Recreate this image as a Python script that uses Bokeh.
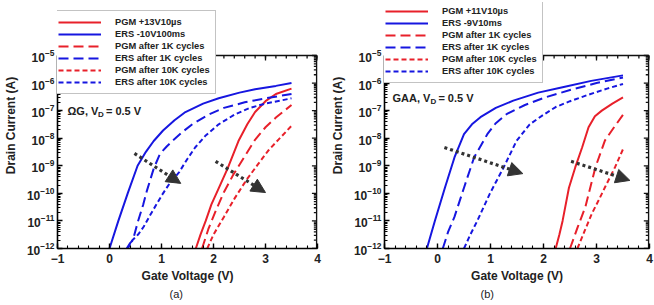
import numpy as np
from bokeh.plotting import figure
from bokeh.layouts import row
from bokeh.models import (Range1d, SingleIntervalTicker, Legend, LegendItem, Label, Title,
                          Arrow, NormalHead)
from bokeh.embed import file_html
from bokeh.resources import INLINE

# ---------------- data (Gate voltage V, drain current A) ----------------
# Panel (a): Omega-gate
a_ers_v   = [0.0, 0.17, 0.35, 0.54, 0.7, 0.85, 1.03, 1.25, 1.46, 1.8, 2.1, 2.5, 2.8, 3.2, 3.5]
a_ers_i   = [1e-12, 1e-11, 1e-10, 1e-9, 3.2e-9, 7.9e-9, 1.9e-8, 4.5e-8, 8.9e-8, 1.8e-7,
             2.8e-7, 4.5e-7, 6.0e-7, 7.9e-7, 1.0e-6]
a_ers1k_v = [0.33, 0.4, 0.45, 0.55, 0.65, 0.72, 0.85, 0.97, 1.1, 1.22, 1.4, 1.6, 1.9, 2.2, 2.6, 3.0, 3.5]
a_ers1k_i = [1e-12, 1.6e-12, 2e-12, 1e-11, 4e-11, 1.26e-10, 7.9e-10, 2.7e-9, 5e-9, 8.3e-9,
             1.66e-8, 3.3e-8, 7.1e-8, 1.26e-7, 2.0e-7, 2.8e-7, 4.0e-7]
a_ers10k_v = [0.35, 0.44, 0.55, 0.66, 0.78, 0.91, 1.03, 1.15, 1.34, 1.5, 1.65, 1.85, 2.1, 2.4, 2.7, 3.0, 3.5]
a_ers10k_i = [1e-12, 2e-12, 3.2e-12, 6.3e-12, 1.6e-11, 4.2e-11, 1e-10, 2.2e-10, 5.9e-10, 1.8e-9,
              4.7e-9, 1.26e-8, 3.2e-8, 7.1e-8, 1.26e-7, 1.8e-7, 2.8e-7]
a_pgm_v   = [1.66, 1.75, 1.85, 1.96, 2.08, 2.27, 2.48, 2.65, 2.8, 3.0, 3.2, 3.5]
a_pgm_i   = [1e-12, 3.2e-12, 1e-11, 4e-11, 1.26e-10, 7.9e-10, 7.9e-9, 3.2e-8, 8.9e-8,
             2.2e-7, 4.0e-7, 6.3e-7]
a_pgm1k_v = [1.78, 1.9, 2.05, 2.2, 2.39, 2.6, 2.79, 3.0, 3.2, 3.5]
a_pgm1k_i = [1e-12, 5e-12, 2.5e-11, 1.1e-10, 5.1e-10, 2.2e-9, 8.3e-9, 2.5e-8, 5.6e-8, 1.6e-7]
a_pgm10k_v = [1.88, 2.0, 2.2, 2.4, 2.63, 2.85, 3.05, 3.25, 3.5]
a_pgm10k_i = [1e-12, 3.2e-12, 1.4e-11, 6.3e-11, 3.0e-10, 1.1e-9, 3.5e-9, 8.9e-9, 2.8e-8]

# Panel (b): gate-all-around
b_ers_v   = [-0.2, -0.05, 0.14, 0.32, 0.5, 0.65, 0.81, 1.1, 1.43, 1.9, 2.36, 2.9, 3.5]
b_ers_i   = [1e-12, 1e-11, 1.6e-10, 2e-9, 1.4e-8, 3.2e-8, 5.8e-8, 1.26e-7, 2.3e-7, 4.5e-7,
             7.1e-7, 1.2e-6, 1.9e-6]
b_ers1k_v = [0.1, 0.2, 0.32, 0.5, 0.69, 0.94, 1.1, 1.31, 1.65, 2.05, 2.5, 3.0, 3.5]
b_ers1k_i = [1e-12, 4e-12, 1.4e-11, 1.6e-10, 2e-9, 1.4e-8, 3.5e-8, 7.6e-8, 1.6e-7, 3.1e-7,
             5.6e-7, 1.0e-6, 1.6e-6]
b_ers10k_v = [0.5, 0.62, 0.75, 0.99, 1.25, 1.49, 1.74, 2.0, 2.23, 2.5, 2.85, 3.2, 3.5]
b_ers10k_i = [1e-12, 3.2e-12, 1e-11, 1e-10, 8.9e-10, 7.9e-9, 3.2e-8, 7.1e-8, 1.35e-7, 2.2e-7,
              3.8e-7, 6.3e-7, 9.3e-7]
b_pgm_v   = [2.23, 2.3, 2.36, 2.48, 2.6, 2.73, 2.85, 2.97, 3.1, 3.3, 3.5]
b_pgm_i   = [1e-12, 3.2e-12, 1e-11, 1.6e-10, 8.9e-10, 4.7e-9, 2.5e-8, 6.3e-8, 1.0e-7, 1.8e-7, 3.0e-7]
b_pgm1k_v = [2.5, 2.65, 2.79, 2.98, 3.16, 3.35, 3.5]
b_pgm1k_i = [1e-12, 6.3e-12, 3.2e-11, 8.9e-10, 8.3e-9, 2.8e-8, 7.1e-8]
b_pgm10k_v = [2.64, 2.78, 2.91, 3.04, 3.16, 3.35, 3.5]
b_pgm10k_i = [1e-12, 4.5e-12, 1.8e-11, 5.6e-11, 1.66e-10, 8.9e-10, 4.0e-9]

labels_a = ["PGM +13V10\u00b5s", "ERS -10V100ms", "PGM after 1K cycles",
            "ERS after 1K cycles", "PGM after 10K cycles", "ERS after 10K cycles"]
labels_b = ["PGM +11V10\u00b5s", "ERS -9V10ms", "PGM after 1K cycles",
            "ERS after 1K cycles", "PGM after 10K cycles", "ERS after 10K cycles"]

# arrows: (x_start, I_start, x_end, I_end)
arrows_a = [(0.48, 2.8e-9, 1.37, 2.3e-10), (2.04, 1.45e-9, 3.0, 1.07e-10)]
arrows_b = [(0.13, 4.6e-9, 1.61, 5.2e-10), (2.52, 1.45e-9, 3.63, 2.95e-10)]

X_MIN, X_MAX = -1.0, 4.0
Y_MIN, Y_MAX = 1e-12, 1e-5          # axis box limits
Y_VIEW_TOP = 10 ** -3.078           # room above the box for the legend
FRAME_W = 270
FRAME_H = 305 - 2 - 57

RED = "#e8202a"
BLUE = "#1616e0"
EDGE = "#111111"
FONT = "Liberation Sans"


def make_panel(series, labels, arrows, cond_parts, panel_tag, border_left, border_right,
               legend_y, cond_pos, tag_offset):
    p = figure(width=border_left + FRAME_W + border_right, height=305,
               x_range=Range1d(X_MIN, X_MAX), y_range=Range1d(Y_MIN, Y_VIEW_TOP),
               y_axis_type="log", output_backend="svg", toolbar_location=None,
               min_border_left=border_left, min_border_right=border_right,
               min_border_top=2, min_border_bottom=57)
    p.outline_line_color = None
    p.grid.visible = False
    p.background_fill_color = "white"
    p.border_fill_color = "white"

    bottom = p.below[0]
    left = p.left[0]
    bottom.ticker = SingleIntervalTicker(interval=1, num_minor_ticks=5)
    left.bounds = (Y_MIN, Y_MAX)

    for ax in [bottom, left]:
        ax.axis_line_width = 1.6
        ax.axis_line_color = "black"
        ax.major_tick_in = 5
        ax.major_tick_out = 0
        ax.minor_tick_in = 3
        ax.minor_tick_out = 0
        ax.major_tick_line_width = 1.4
        ax.minor_tick_line_width = 1.1
        ax.major_tick_line_color = "black"
        ax.minor_tick_line_color = "black"
        ax.major_label_text_font = FONT
        ax.major_label_text_font_style = "bold"
        ax.major_label_text_font_size = "12px"
        ax.major_label_text_color = "#222222"
        ax.axis_label_text_font = FONT
        ax.axis_label_text_font_style = "bold"
        ax.axis_label_text_font_size = "12px"
        ax.axis_label_text_color = "#222222"

    bottom.axis_label = "Gate Voltage (V)"
    bottom.major_label_standoff = 5
    bottom.axis_label_standoff = 3
    left.axis_label = "Drain Current (A)"
    left.major_label_standoff = 3
    left.axis_label_standoff = 6

    styles = [(RED, "solid"), (BLUE, "solid"), (RED, "10 5"), (BLUE, "10 5"),
              (RED, "5 3"), (BLUE, "5 3")]
    items = []
    for (vx, vy), (col, dash), lab in zip(series, styles, labels):
        r = p.line(vx, vy, line_color=col, line_dash=dash, line_width=2)
        items.append(LegendItem(label=lab, renderers=[r]))

    # ---- top and right edges of the axis box (drawn after the curves) ----
    v_per_px = (X_MAX - X_MIN) / FRAME_W
    dec_per_px = (np.log10(Y_VIEW_TOP) - np.log10(Y_MIN)) / FRAME_H
    x_edge = X_MAX - 0.8 * v_per_px
    p.line([X_MIN, x_edge, x_edge], [Y_MAX, Y_MAX, Y_MIN], line_color=EDGE, line_width=1.6)

    # inward ticks on the top and right edges, mirroring the bottom and left axes
    major_x = [float(x) for x in np.arange(X_MIN, X_MAX + 0.001, 1.0)]
    minor_x = [float(x) for x in np.arange(X_MIN, X_MAX + 0.001, 0.2)]
    y_major_end = float(Y_MAX * 10 ** (-5 * dec_per_px))
    y_minor_end = float(Y_MAX * 10 ** (-3 * dec_per_px))
    decades = [10.0 ** d for d in range(-12, -4)]
    minor_y = [m * d for d in decades[:-1] for m in range(2, 10)]
    xs = ([[x, x] for x in major_x] + [[x, x] for x in minor_x] +
          [[x_edge, x_edge - 5 * v_per_px] for _ in decades] +
          [[x_edge, x_edge - 3 * v_per_px] for _ in minor_y])
    ys = ([[Y_MAX, y_major_end] for _ in major_x] + [[Y_MAX, y_minor_end] for _ in minor_x] +
          [[y, y] for y in decades] + [[y, y] for y in minor_y])
    p.multi_line(xs, ys, line_color=EDGE, line_width=1.3)

    for (x0, y0, x1, y1) in arrows:
        p.add_layout(Arrow(end=NormalHead(size=14, fill_color="#333333", line_color="#333333"),
                           x_start=x0, y_start=y0, x_end=x1, y_end=y1,
                           line_color="#333333", line_width=3.2, line_dash="3 3"))

    legend = Legend(items=items, location=(-5, legend_y), orientation="vertical",
                    glyph_width=43, glyph_height=12, label_height=12, spacing=0,
                    padding=5, margin=0, label_standoff=14,
                    label_text_font=FONT, label_text_font_style="bold",
                    label_text_font_size="9.3px", label_text_color="#222222",
                    border_line_color="#888888", border_line_width=1,
                    background_fill_color="white", background_fill_alpha=1.0)
    p.add_layout(legend, "center")

    cx, cy = cond_pos
    main, sub, rest = cond_parts
    common = dict(x_units="screen", y_units="screen", text_font=FONT,
                  text_font_style="bold", text_color="#222222", text_baseline="middle")
    main_w = {"\u03a9G, V": 2.77, "GAA, V": 3.445}[main] * 11
    p.add_layout(Label(x=cx, y=cy, text=main, text_font_size="11px", **common))
    p.add_layout(Label(x=cx + main_w, y=cy - 4, text=sub, text_font_size="8px", **common))
    p.add_layout(Label(x=cx + main_w + 8, y=cy, text=rest, text_font_size="11px", **common))

    p.add_layout(Title(text=panel_tag, align="left", offset=tag_offset, text_font=FONT,
                       text_font_size="11px", text_font_style="normal",
                       text_color="#222222", standoff=0), "below")
    return p


series_a = [(a_pgm_v, a_pgm_i), (a_ers_v, a_ers_i), (a_pgm1k_v, a_pgm1k_i),
            (a_ers1k_v, a_ers1k_i), (a_pgm10k_v, a_pgm10k_i), (a_ers10k_v, a_ers10k_i)]
series_b = [(b_pgm_v, b_pgm_i), (b_ers_v, b_ers_i), (b_pgm1k_v, b_pgm1k_i),
            (b_ers1k_v, b_ers1k_i), (b_pgm10k_v, b_pgm10k_i), (b_ers10k_v, b_ers10k_i)]

pa = make_panel(series_a, labels_a, arrows_a, ("\u03a9G, V", "D", "= 0.5 V"), "(a)",
                47, 10, 154, (10, 138), 112)
pb = make_panel(series_b, labels_b, arrows_b, ("GAA, V", "D", "= 0.5 V"), "(b)",
                52, 5, 165, (8, 151), 96)

layout = row(pa, pb, spacing=0)
open("out.html", "w").write(file_html(layout, INLINE))
